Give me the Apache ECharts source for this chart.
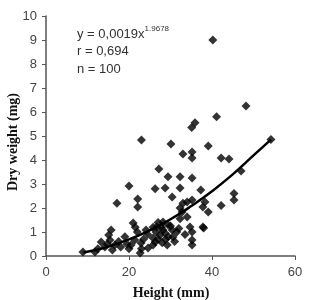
<!DOCTYPE html>
<html>
<head>
<meta charset="utf-8">
<script src="https://cdn.jsdelivr.net/npm/echarts@6/dist/echarts.min.js"></script>
<style>
  html, body { margin: 0; padding: 0; background: #fff; }
  #chart { width: 317px; height: 300px; }
</style>
</head>
<body>
<div id="chart"></div>
<script>
// height (mm) / dry weight (mg)
var points = [
    [40.2, 9.0], [48.2, 6.25], [41.1, 5.8], [35.9, 5.55], [35.1, 5.35], [54.2, 4.85],
    [30.1, 4.67], [39.1, 4.58], [23.0, 4.83], [33.0, 4.25], [35.2, 4.33], [35.2, 4.08],
    [42.2, 4.08], [44.1, 4.04], [27.2, 3.63], [47.0, 3.54], [29.4, 3.3], [32.3, 3.3],
    [35.2, 3.25], [20.0, 2.92], [26.3, 2.8], [28.7, 2.83], [32.3, 2.83], [37.3, 2.75],
    [45.3, 2.6], [45.3, 2.33], [30.4, 2.46], [35.2, 2.33], [17.1, 2.2], [22.1, 2.38],
    [22.1, 2.04], [33.0, 2.2], [34.0, 2.25], [42.2, 2.1], [37.8, 2.04], [38.3, 2.25],
    [32.3, 2.0], [39.1, 1.83], [32.8, 1.83], [34.0, 1.63], [32.3, 1.55], [38.0, 1.17],
    [35.2, 1.0], [35.2, 0.67], [35.2, 0.46], [37.8, 1.21], [34.7, 1.21],
    [8.9, 0.17], [11.8, 0.17], [13.3, 0.58], [14.2, 0.38], [15.4, 0.67], [15.7, 1.08],
    [15.1, 0.88], [16.6, 0.46], [18.0, 0.38], [19.0, 0.8], [20.5, 0.46], [21.4, 0.67],
    [21.0, 1.37], [21.5, 1.2], [22.0, 1.0], [22.7, 0.12], [22.9, 0.54], [24.1, 1.08],
    [24.6, 0.33], [25.8, 1.2], [26.3, 0.58], [25.8, 0.75], [25.8, 0.46], [26.7, 1.21],
    [27.0, 1.4], [27.5, 0.88], [28.2, 1.42], [28.2, 1.08], [28.7, 0.95], [29.2, 0.46],
    [29.4, 1.3], [30.4, 1.08], [30.6, 0.79], [31.0, 0.6], [27.0, 0.7], [28.0, 0.55],
    [29.5, 0.8], [30.0, 1.25], [31.5, 1.0], [32.0, 1.15], [33.5, 0.9], [26.5, 1.0],
    [27.8, 1.2], [28.8, 0.7], [17.5, 0.6], [19.5, 0.5], [23.5, 0.7], [24.5, 0.9],
    [12.5, 0.3], [14.8, 0.5], [16.0, 0.25], [20.0, 0.3], [23.0, 0.3]
];
// power trend line
var trendX = [9, 12, 15, 20, 25, 30, 35, 40, 45, 50, 54.2];
var trendY = [0.15, 0.25, 0.39, 0.69, 1.07, 1.53, 2.08, 2.7, 3.4, 4.19, 4.85];
var xTicks = [0, 20, 40, 60];
var yTicks = [0, 1, 2, 3, 4, 5, 6, 7, 8, 9, 10];

var trend = trendX.map(function (x, i) { return [x, trendY[i]]; });

var myChart = echarts.init(document.getElementById('chart'));
var axisColor = '#555';
var labelFont = { fontFamily: 'Liberation Sans', fontSize: 13, color: '#444' };

option = {
    backgroundColor: '#fff',
    animation: false,
    grid: { left: 46, right: 22, top: 16, bottom: 44 },
    xAxis: {
        type: 'value',
        min: xTicks[0],
        max: xTicks[xTicks.length - 1],
        interval: 20,
        axisLine: { lineStyle: { color: axisColor, width: 1.5 } },
        axisTick: { length: 4, lineStyle: { color: axisColor } },
        axisLabel: Object.assign({ margin: 10 }, labelFont),
        splitLine: { show: false }
    },
    yAxis: {
        type: 'value',
        min: yTicks[0],
        max: yTicks[yTicks.length - 1],
        interval: 1,
        axisLine: { show: true, lineStyle: { color: axisColor, width: 1.5 } },
        axisTick: { show: true, length: 4, lineStyle: { color: axisColor } },
        axisLabel: Object.assign({ margin: 9 }, labelFont),
        splitLine: { show: false }
    },
    graphic: [
        {
            type: 'text', left: 77, top: 25,
            style: {
                text: '{a|y = 0,0019x}{b|1.9678}',
                rich: {
                    a: { fontFamily: 'Liberation Sans', fontSize: 13, fill: '#333', verticalAlign: 'bottom' },
                    b: { fontFamily: 'Liberation Sans', fontSize: 8, fill: '#333', verticalAlign: 'top', padding: [0, 0, 8, 0] }
                }
            }
        },
        { type: 'text', left: 77, top: 45, style: { text: 'r = 0,694', fontFamily: 'Liberation Sans', fontSize: 13, fill: '#333' } },
        { type: 'text', left: 77, top: 63, style: { text: 'n = 100', fontFamily: 'Liberation Sans', fontSize: 13, fill: '#333' } },
        {
            type: 'text', x: 171, y: 293,
            style: { text: 'Height (mm)', fontFamily: 'Liberation Serif', fontWeight: 'bold', fontSize: 14, fill: '#111', align: 'center', verticalAlign: 'middle' }
        },
        {
            type: 'text', x: 13, y: 142, rotation: Math.PI / 2,
            style: { text: 'Dry weight (mg)', fontFamily: 'Liberation Serif', fontWeight: 'bold', fontSize: 14, fill: '#111', align: 'center', verticalAlign: 'middle' }
        }
    ],
    series: [
        {
            type: 'scatter',
            symbol: 'diamond',
            symbolSize: 9,
            itemStyle: { color: '#000' },
            data: points,
            z: 3
        },
        {
            type: 'line',
            smooth: true,
            showSymbol: false,
            lineStyle: { color: '#000', width: 2.5 },
            data: trend,
            z: 2
        }
    ]
};
myChart.setOption(option);
</script>
</body>
</html>
